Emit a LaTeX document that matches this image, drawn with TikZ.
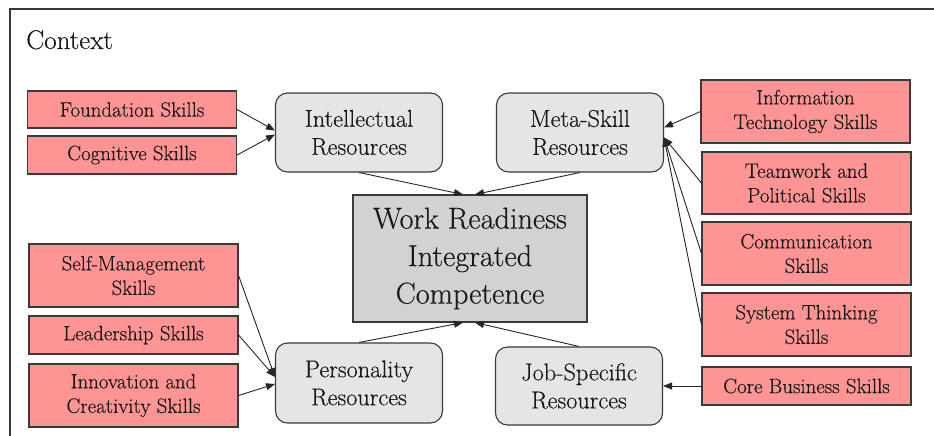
\documentclass[tikz,border=0pt]{standalone}
\usepackage{fontspec}
\setmainfont{Latin Modern Roman}[UprightFeatures={FakeBold=0.35}]
\usetikzlibrary{arrows.meta}
\definecolor{skillfill}{HTML}{FF9494}
\definecolor{resfill}{HTML}{E6E4E6}
\definecolor{workfill}{HTML}{D4D1D4}
\definecolor{edge}{HTML}{3A3A3A}
\tikzset{
  skillbox/.style={draw=edge, line width=1.1pt, fill=skillfill, minimum width=209pt, inner sep=0pt, align=center, font=\rmfamily\fontsize{20.8}{24.5}\selectfont, text=black!90},
  resbox/.style={draw=edge, line width=1.1pt, fill=resfill, rounded corners=12pt, minimum width=167pt, minimum height=79pt, inner sep=0pt, align=center, font=\rmfamily\fontsize{24.3}{28}\selectfont, text=black!90},
  workbox/.style={draw=edge, line width=1.1pt, fill=workfill, minimum width=234pt, minimum height=127pt, inner sep=0pt, align=center, font=\rmfamily\fontsize{30.2}{37.5}\selectfont, text=black!90},
  arr/.style={draw=black!85, line width=0.9pt, -{Triangle[length=9pt,width=7pt]}}
}
\begin{document}
\begin{tikzpicture}[x=1pt,y=-1pt]
\useasboundingbox (0,0) rectangle (934,436);
\draw[edge, line width=1.1pt] (934,9) -- (10,9) -- (10,436);
\node[anchor=base west, font=\rmfamily\fontsize{27}{32}\selectfont, inner sep=0pt, text=black!90] (ctx) at (26,49) {Context};

% skills left
\node[skillbox, minimum height=37pt] (found) at (132,109.5) {Foundation Skills};
\node[skillbox, minimum height=38pt] (cogn) at (132,155) {Cognitive Skills};
\node[skillbox, minimum height=63pt] (selfm) at (133.5,275.5) {Self-Management\\Skills};
\node[skillbox, minimum height=38pt] (lead) at (133.5,335) {Leadership Skills};
\node[skillbox, minimum height=63pt] (innov) at (133.5,395.5) {Innovation and\\Creativity Skills};

% skills right
\node[skillbox, minimum height=63pt] (info) at (805.5,111.5) {Information\\Technology Skills};
\node[skillbox, minimum height=62pt] (team) at (806.5,183) {Teamwork and\\Political Skills};
\node[skillbox, minimum height=63pt] (comm) at (806.5,253.5) {Communication\\Skills};
\node[skillbox, minimum height=63pt] (sys) at (806.5,324.5) {System Thinking\\Skills};
\node[skillbox, minimum height=38pt] (core) at (806.5,386) {Core Business Skills};

% resources
\node[resbox] (intel) at (359,132.5) {Intellectual\\Resources};
\node[resbox] (meta) at (580,132.5) {Meta-Skill\\Resources};
\node[resbox, minimum height=80pt] (pers) at (359,383) {Personality\\Resources};
\node[resbox, minimum height=78pt] (job) at (579,386) {Job-Specific\\Resources};

% center
\node[workbox] (work) at (470,258.5) {Work Readiness\\Integrated\\Competence};

% arrows
\draw[arr] (found.east) -- ([yshift=2pt]intel.west);
\draw[arr] (cogn.east) -- ([yshift=-2pt]intel.west);
\draw[arr] (selfm.east) -- ([yshift=6pt]pers.west);
\draw[arr] (lead.east) -- ([yshift=6pt]pers.west);
\draw[arr] (innov.east) -- ([yshift=-1pt]pers.west);
\draw[arr] (info.west) -- ([yshift=5pt]meta.east);
\draw[arr] (team.west) -- ([yshift=-5pt]meta.east);
\draw[arr] (comm.west) -- ([yshift=-5pt]meta.east);
\draw[arr] (sys.west) -- ([yshift=-5pt]meta.east);
\draw[arr] (core.west) -- (job.east);
\draw[arr] (intel.south) -- ([xshift=-7pt]work.north);
\draw[arr] (meta.south) -- ([xshift=5pt]work.north);
\draw[arr] (pers.north) -- ([xshift=-7pt]work.south);
\draw[arr] (job.north) -- ([xshift=5pt]work.south);
\end{tikzpicture}
\end{document}
